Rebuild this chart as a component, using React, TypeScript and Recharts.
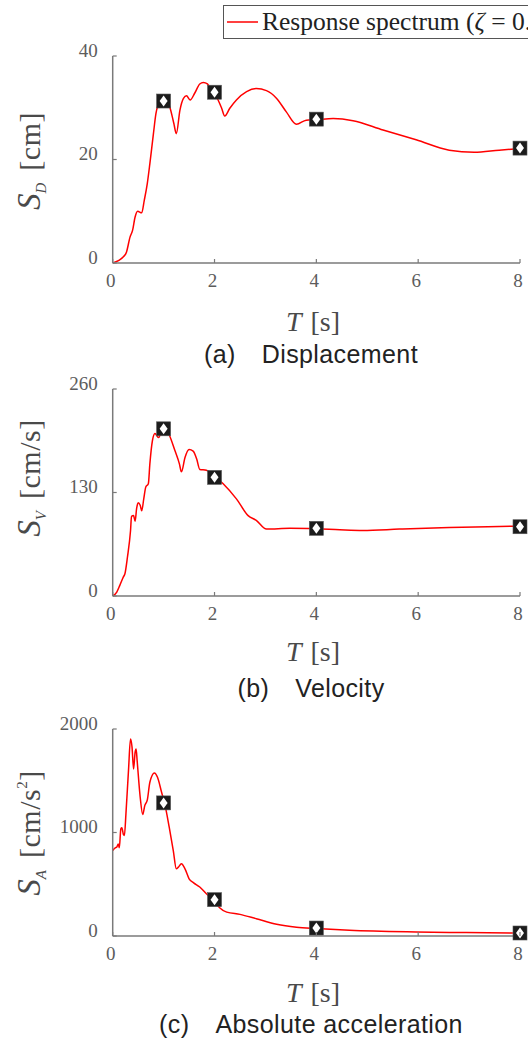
import React from "react";
import { ComposedChart, Line, Scatter, XAxis, YAxis } from "recharts";

const RED = "#ff0000";
const AXIS = "#7a7a7a";
const TICK_TXT = "#5c5c5c";
const LABEL_TXT = "#4a4a4a";
const SERIF = "'Liberation Serif', 'DejaVu Serif', serif";
const SANS = "'Liberation Sans', Arial, sans-serif";

const periodTicks = [0, 2, 4, 6, 8];
const markT = [1, 2, 4, 8];

// (a) displacement
const dispT = [0, 0.21, 0.27, 0.34, 0.39, 0.44, 0.49, 0.57, 0.62, 0.68, 0.73, 0.8, 0.85, 0.93, 1.03, 1.12, 1.2, 1.25, 1.32, 1.39, 1.45, 1.52, 1.61, 1.71, 1.78, 1.86, 1.94, 2.07, 2.14, 2.2, 2.3, 2.43, 2.63, 2.82, 3.02, 3.22, 3.41, 3.61, 3.8, 4.0, 4.33, 4.72, 5.31, 5.96, 6.61, 7.1, 7.59, 7.98];
const dispV = [0, 1.2, 2.1, 5, 6.3, 8.9, 10, 9.7, 12.1, 15.4, 19.2, 25, 28.9, 31.2, 31.8, 30.2, 27, 25, 29.5, 31.8, 32.3, 31.5, 32.8, 34.6, 34.9, 34.6, 33.4, 31.5, 29.9, 28.4, 29.9, 31.5, 33.1, 33.7, 33.3, 31.8, 29.2, 26.8, 27.6, 27.7, 27.9, 27.5, 25.7, 23.8, 21.8, 21.4, 21.8, 22.1];
const dispMark = [31.3, 33, 27.8, 22.2];
const dispTicks = [0, 20, 40];

// (b) velocity
const velT = [0, 0.08, 0.14, 0.21, 0.24, 0.29, 0.35, 0.37, 0.41, 0.44, 0.47, 0.5, 0.54, 0.57, 0.61, 0.65, 0.7, 0.73, 0.78, 0.83, 0.9, 0.96, 1.06, 1.12, 1.22, 1.31, 1.35, 1.42, 1.5, 1.58, 1.65, 1.71, 1.84, 1.99, 2.17, 2.43, 2.66, 2.82, 3.02, 3.48, 4.0, 4.46, 4.91, 5.63, 6.61, 7.59, 7.98];
const velV = [0, 5, 13.4, 24, 28, 49, 82, 100, 101, 94, 110, 117, 114, 107, 122, 137, 141, 166, 195, 204, 199, 206, 209, 201, 183, 166, 156, 174, 184, 182, 172, 159, 158, 151, 141, 122, 101, 95, 84, 85, 84.4, 83.2, 82.4, 84, 86, 87.3, 87.7];
const velMark = [210, 149, 85, 87];
const velTicks = [0, 130, 260];

// (c) absolute acceleration
const accT = [0, 0.05, 0.08, 0.11, 0.13, 0.16, 0.18, 0.21, 0.23, 0.26, 0.31, 0.35, 0.38, 0.41, 0.44, 0.46, 0.48, 0.54, 0.59, 0.63, 0.68, 0.73, 0.82, 0.88, 0.96, 1.03, 1.11, 1.19, 1.25, 1.29, 1.35, 1.42, 1.5, 1.59, 1.71, 1.84, 1.99, 2.1, 2.24, 2.5, 2.82, 3.22, 3.61, 4.0, 4.65, 5.96, 6.94, 7.86];
const accV = [826, 852, 858, 890, 852, 1035, 1045, 981, 971, 1180, 1598, 1903, 1823, 1614, 1775, 1807, 1694, 1341, 1173, 1260, 1315, 1485, 1575, 1534, 1389, 1260, 1051, 826, 649, 665, 698, 649, 553, 514, 473, 408, 344, 273, 231, 209, 167, 113, 85, 72, 55, 39, 33, 29];
const accMark = [1286, 351, 77, 29];
const accTicks = [0, 1000, 2000];

const zip = (t: number[], v: number[]) => t.map((x, i) => ({ t: x, v: v[i] }));

function XTick(props: any) {
  const { x, y, payload } = props;
  return (
    <g>
      <line x1={x} x2={x} y1={y} y2={y - 4} stroke={AXIS} strokeWidth={1.2} />
      <text x={x - 2} y={y + 17} textAnchor="middle" dominantBaseline="central" fill={TICK_TXT} fontFamily={SERIF} fontSize={19}>
        {payload.value}
      </text>
    </g>
  );
}

function YTick(props: any) {
  const { x, y, payload } = props;
  return (
    <g>
      <line x1={x} x2={x + 4} y1={y} y2={y} stroke={AXIS} strokeWidth={1.2} />
      <text x={x - 15} y={y - 6} textAnchor="end" dominantBaseline="central" fill={TICK_TXT} fontFamily={SERIF} fontSize={19}>
        {payload.value}
      </text>
    </g>
  );
}

function Marker(props: any) {
  const { cx, cy } = props;
  if (cx == null || cy == null) return null;
  return (
    <g>
      <rect x={cx - 7} y={cy - 7} width={14} height={14} fill="#1c1c1c" stroke="#555" strokeWidth={0.6} />
      <path d={`M${cx},${cy - 5.5} L${cx + 4},${cy} L${cx},${cy + 5.5} L${cx - 4},${cy} Z`} fill="#fff" />
    </g>
  );
}

type PanelProps = {
  plotTop: number;
  curve: { t: number; v: number }[];
  marks: { t: number; v: number }[];
  yTicks: number[];
};

const MARGIN_TOP = 20;
const PLOT_H = 207;
const XAXIS_H = 33;

function Panel({ plotTop, curve, marks, yTicks }: PanelProps) {
  return (
    <div style={{ position: "absolute", left: 0, top: plotTop - MARGIN_TOP }}>
      <ComposedChart width={528} height={MARGIN_TOP + PLOT_H + XAXIS_H} margin={{ top: MARGIN_TOP, right: 8, bottom: 0, left: 0 }}>
        <XAxis
          dataKey="t"
          type="number"
          domain={[0, 8]}
          ticks={periodTicks}
          interval={0}
          height={XAXIS_H}
          tickSize={0}
          tickMargin={0}
          tickLine={false}
          axisLine={{ stroke: AXIS, strokeWidth: 1.5 }}
          tick={<XTick />}
          allowDuplicatedCategory={false}
        />
        <YAxis
          type="number"
          domain={[yTicks[0], yTicks[yTicks.length - 1]]}
          ticks={yTicks}
          interval={0}
          width={112.7}
          tickSize={0}
          tickMargin={0}
          tickLine={false}
          axisLine={{ stroke: AXIS, strokeWidth: 1.5 }}
          tick={<YTick />}
        />
        <Line data={curve} dataKey="v" type="monotone" stroke={RED} strokeWidth={1.5} dot={false} isAnimationActive={false} />
        <Scatter data={marks} dataKey="v" shape={<Marker />} isAnimationActive={false} />
      </ComposedChart>
    </div>
  );
}

function YLabel({ cy, sub, unit, sup }: { cy: number; sub: string; unit: string; sup?: string }) {
  return (
    <div
      style={{
        position: "absolute",
        left: 29,
        top: cy,
        transform: "translate(-50%, -50%) rotate(-90deg)",
        whiteSpace: "nowrap",
        fontFamily: SERIF,
        fontSize: 30,
        color: LABEL_TXT,
        lineHeight: 1,
      }}
    >
      <i style={{ fontSize: 33 }}>S</i>
      <i style={{ fontSize: 15, position: "relative", top: 6 }}>{sub}</i>
      <span style={{ marginLeft: 12, letterSpacing: 0.5 }}>
        [{unit}
        {sup && <span style={{ fontSize: 15, position: "relative", top: -13 }}>{sup}</span>}]
      </span>
    </div>
  );
}

function TLabel({ cy }: { cy: number }) {
  return (
    <div style={{ position: "absolute", left: 313, top: cy, transform: "translate(-50%, -50%)", whiteSpace: "nowrap", fontFamily: SERIF, fontSize: 28, color: LABEL_TXT, lineHeight: 1 }}>
      <i>T</i>
      <span style={{ marginLeft: 9 }}>[s]</span>
    </div>
  );
}

function Caption({ cy, tag, text }: { cy: number; tag: string; text: string }) {
  return (
    <div style={{ position: "absolute", left: 311, top: cy, transform: "translate(-50%, -50%)", whiteSpace: "nowrap", fontFamily: SANS, fontSize: 25, color: "#222", lineHeight: 1, letterSpacing: 0.4 }}>
      <span>{tag}</span>
      <span style={{ marginLeft: 26 }}>{text}</span>
    </div>
  );
}

export default function App() {
  return (
    <div style={{ position: "absolute", left: 0, top: 0, width: 528, height: 1041, overflow: "hidden", background: "#fff" }}>
      <Panel plotTop={56} curve={zip(dispT, dispV)} marks={zip(markT, dispMark)} yTicks={dispTicks} />
      <Panel plotTop={388.5} curve={zip(velT, velV)} marks={zip(markT, velMark)} yTicks={velTicks} />
      <Panel plotTop={728.5} curve={zip(accT, accV)} marks={zip(markT, accMark)} yTicks={accTicks} />

      <YLabel cy={161} sub="D" unit="cm" />
      <YLabel cy={478} sub="V" unit="cm/s" />
      <YLabel cy={833} sub="A" unit="cm/s" sup="2" />

      <TLabel cy={322} />
      <TLabel cy={652} />
      <TLabel cy={993} />

      <Caption cy={354} tag="(a)" text="Displacement" />
      <Caption cy={688} tag="(b)" text="Velocity" />
      <Caption cy={1024} tag="(c)" text="Absolute acceleration" />

      <div style={{ position: "absolute", left: 223, top: 5, width: 400, height: 34, border: "1px solid #555", background: "#fff", boxSizing: "border-box" }}>
        <svg width={40} height={32} style={{ position: "absolute", left: 0, top: 0 }}>
          <line x1={3} x2={34} y1={16} y2={16} stroke={RED} strokeWidth={1.5} />
        </svg>
        <div style={{ position: "absolute", left: 38, top: 1, fontFamily: SERIF, fontSize: 25.5, color: "#222", whiteSpace: "nowrap", lineHeight: "30px" }}>
          Response spectrum (<i>ζ</i> = 0.05)
        </div>
      </div>
    </div>
  );
}
